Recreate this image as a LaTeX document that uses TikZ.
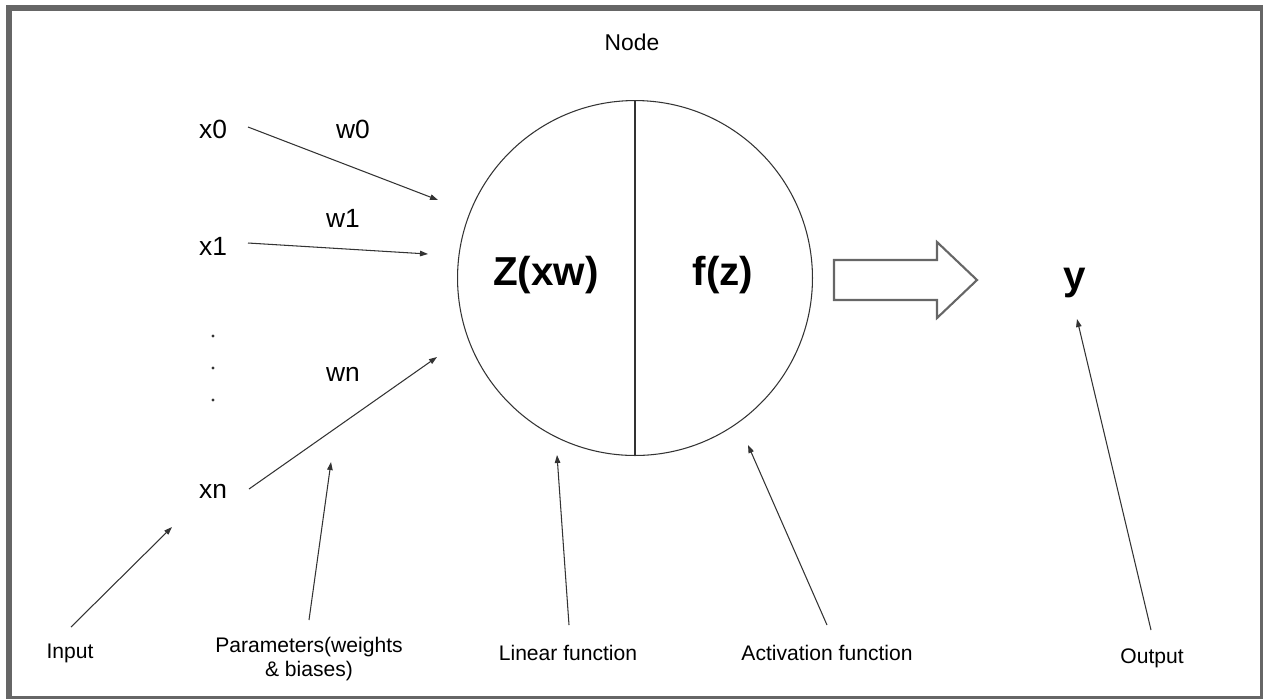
\documentclass[tikz,border=0pt]{standalone}
\usepackage{fontspec}
\setmainfont{Liberation Sans}
\usetikzlibrary{arrows.meta,positioning,shapes.geometric,calc}
\definecolor{nnframe}{HTML}{666666}
\definecolor{nnline}{HTML}{333333}

\begin{document}
\begin{tikzpicture}[
    x=0.02cm, y=-0.02cm,
    lbl/.style={inner sep=0pt, font=\fontsize{15}{17}\selectfont},
    note/.style={inner sep=0pt, align=center, font=\fontsize{12}{14}\selectfont},
    big/.style={inner sep=0pt, font=\fontsize{23}{26}\selectfont\bfseries},
    arr/.style={-{Triangle[length=1.6mm, width=1.1mm]}, line width=0.6pt, nnline}
]
% frame
\clip (0,0) rectangle (1263,698);
\draw[nnframe, line width=3.4pt] (9,8) rectangle (1263,699);

% neuron
\node[font=\fontsize{13}{15}\selectfont, inner sep=0pt] (title) at (632,42) {Node};
\node[circle, draw=nnline, line width=0.6pt, minimum size=7.1cm] (neuron) at (635,278) {};
\draw[nnline, line width=0.6pt] (neuron.north) -- (neuron.south);
\node[big] (lin) at (546,275) {Z(xw)};
\node[big] (act) at (723,275) {f(z)};

% inputs
\node[lbl] (x0) at (213,129) {x0};
\node[lbl] (x1) at (213,246) {x1};
\node[lbl] (xn) at (213,491) {xn};
\node[lbl] (w0) at (353,129) {w0};
\node[lbl] (w1) at (343,218) {w1};
\node[lbl] (wn) at (343,374) {wn};
\foreach \yy in {336,368,400}
    \fill[nnline] (213,\yy) circle (0.9pt);

\coordinate (x0s) at (248,127);
\coordinate (x1s) at (248,243);
\coordinate (xns) at (249,489);
\coordinate (in0) at (438,200);
\coordinate (in1) at (428,254);
\coordinate (inn) at (437,357);
\draw[arr] (x0s) -- (in0);
\draw[arr] (x1s) -- (in1);
\draw[arr] (xns) -- (inn);

% output
\draw[nnframe, line width=1.2pt, line join=miter]
    (834,260) -- (937,260) -- (937,242) -- (977,280) -- (937,318) -- (937,300) -- (834,300) -- cycle;
\node[big] (y) at (1075,283) {y};

% notes
\node[note] (input) at (70,653) {Input};
\node[note] (params) at (309,659) {Parameters(weights\\\& biases)};
\node[note] (linear) at (568,653) {Linear function};
\node[note] (activ) at (827,653) {Activation function};
\node[note] (output) at (1152,658) {Output};

\coordinate (inputs) at (71,627);
\coordinate (paramss) at (309,620);
\coordinate (linears) at (569,625);
\coordinate (activs) at (827,625);
\coordinate (outputs) at (1151,630);
\coordinate (inputt) at (172,527);
\coordinate (paramst) at (331,462);
\coordinate (lineart) at (557,455);
\coordinate (activt) at (748,445);
\coordinate (outputt) at (1077,319);
\draw[arr] (inputs) -- (inputt);
\draw[arr] (paramss) -- (paramst);
\draw[arr] (linears) -- (lineart);
\draw[arr] (activs) -- (activt);
\draw[arr] (outputs) -- (outputt);
\end{tikzpicture}
\end{document}
